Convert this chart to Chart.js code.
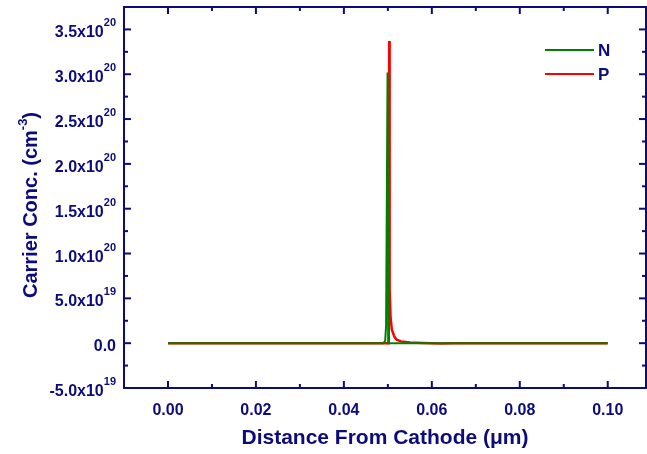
<!DOCTYPE html>
<html>
<head>
<meta charset="utf-8">
<script src="https://cdn.jsdelivr.net/npm/chart.js@4"></script>
<style>
  html, body { margin: 0; padding: 0; background: #fff; }
  #wrap { width: 647px; height: 454px; }
</style>
</head>
<body>
<div id="wrap"><canvas id="myChart" width="647" height="454"></canvas></div>
<script>
// distance (um) and carrier concentration (cm^-3)
const nX = [0, 0.0490, 0.0494, 0.0496, 0.04993, 0.0501, 0.1];
const nY = [0, 0, 3e18, 2e19, 3.02e20, 0, 0];
const pX = [0, 0.0502, 0.0503, 0.0504, 0.0506, 0.0509, 0.0515, 0.0520, 0.0530, 0.0550, 0.0580, 0.0620, 0.0650, 0.1];
const pY = [0, 0, 3.37e20, 6e19, 3e19, 1.5e19, 7e18, 4e18, 2e18, 8e17, 2e17, -3e17, 0, 0];

const xTicks = [0, 0.02, 0.04, 0.06, 0.08, 0.10];
const xMinor = [0.01, 0.03, 0.05, 0.07, 0.09];
const yMant = ['-5.0', '0.0', '5.0', '1.0', '1.5', '2.0', '2.5', '3.0', '3.5'];
const yExp = ['19', '', '19', '20', '20', '20', '20', '20', '20'];
const yTicks = [-5e19, 0, 5e19, 1e20, 1.5e20, 2e20, 2.5e20, 3e20, 3.5e20];
const yMinor = [-2.5e19, 2.5e19, 7.5e19, 1.25e20, 1.75e20, 2.25e20, 2.75e20, 3.25e20];

const navy = '#0b0b7c';
const font = '"Liberation Sans", Arial, sans-serif';

function toPts(xs, ys) {
    return xs.map((x, i) => ({ x: x, y: ys[i] }));
}

const decor = {
    id: 'decor',
    afterDraw(chart) {
        const ctx = chart.ctx;
        const a = chart.chartArea;
        const xs = chart.scales.x;
        const ys = chart.scales.y;
        ctx.save();
        ctx.strokeStyle = navy;
        ctx.lineWidth = 2;
        // top and right border
        ctx.beginPath();
        ctx.moveTo(a.left, a.top);
        ctx.lineTo(a.right, a.top);
        ctx.lineTo(a.right, a.bottom);
        ctx.stroke();

        // inward ticks
        const tick = (x1, y1, x2, y2) => { ctx.beginPath(); ctx.moveTo(x1, y1); ctx.lineTo(x2, y2); ctx.stroke(); };
        xTicks.forEach(v => { const p = xs.getPixelForValue(v); tick(p, a.bottom, p, a.bottom - 7); tick(p, a.top, p, a.top + 7); });
        xMinor.forEach(v => { const p = xs.getPixelForValue(v); tick(p, a.bottom, p, a.bottom - 4); tick(p, a.top, p, a.top + 4); });
        yTicks.forEach(v => { const p = ys.getPixelForValue(v); tick(a.left, p, a.left + 7, p); tick(a.right, p, a.right - 7, p); });
        yMinor.forEach(v => { const p = ys.getPixelForValue(v); tick(a.left, p, a.left + 4, p); tick(a.right, p, a.right - 4, p); });

        // y labels with exponents
        ctx.fillStyle = navy;
        ctx.textBaseline = 'alphabetic';
        yTicks.forEach((v, i) => {
            const p = ys.getPixelForValue(v) + 8;
            const right = a.left - 8;
            ctx.textAlign = 'right';
            if (yExp[i]) {
                ctx.font = 'bold 11px ' + font;
                const ew = ctx.measureText(yExp[i]).width;
                ctx.fillText(yExp[i], right, p - 11);
                ctx.font = 'bold 16px ' + font;
                ctx.fillText(yMant[i] + 'x10', right - ew, p);
            } else {
                ctx.font = 'bold 16px ' + font;
                ctx.fillText(yMant[i], right, p);
            }
        });

        // y title
        ctx.save();
        ctx.translate(37, 205);
        ctx.rotate(-Math.PI / 2);
        const t1 = 'Carrier Conc. (cm';
        const t2 = ')';
        ctx.font = 'bold 13px ' + font;
        const wsup = ctx.measureText('-3').width;
        ctx.font = 'bold 20px ' + font;
        const w1 = ctx.measureText(t1).width;
        const w2 = ctx.measureText(t2).width;
        const total = w1 + wsup + w2;
        ctx.textAlign = 'left';
        ctx.fillText(t1, -total / 2, 0);
        ctx.fillText(t2, -total / 2 + w1 + wsup, 0);
        ctx.font = 'bold 13px ' + font;
        ctx.fillText('-3', -total / 2 + w1, -10);
        ctx.restore();

        // legend
        ctx.textBaseline = 'middle';
        chart.data.datasets.forEach((ds, i) => {
            const yy = 50 + i * 24;
            ctx.strokeStyle = ds.borderColor;
            ctx.lineWidth = 2;
            tick(545, yy, 594, yy);
            ctx.fillStyle = navy;
            ctx.font = 'bold 17px ' + font;
            ctx.textAlign = 'left';
            ctx.fillText(ds.label, 598, yy + 1);
        });
        ctx.restore();
    }
};

const ctx = document.getElementById('myChart').getContext('2d');
const myChart = new Chart(ctx, {
    type: 'line',
    data: {
        datasets: [
            { label: 'N', data: toPts(nX, nY), borderColor: '#008000', borderWidth: 2, pointRadius: 0, tension: 0 },
            { label: 'P', data: toPts(pX, pY), borderColor: '#ff0000', borderWidth: 2.5, pointRadius: 0, tension: 0 }
        ]
    },
    options: {
        responsive: false,
        animation: false,
        layout: { padding: { top: 7, right: 1, left: 0, bottom: 0 } },
        plugins: { legend: { display: false }, tooltip: { enabled: false } },
        scales: {
            x: {
                type: 'linear',
                min: -0.01,
                max: 0.1087,
                afterBuildTicks: (s) => { s.ticks = xTicks.map(v => ({ value: v })); },
                afterFit: (s) => { s.height = 66; },
                grid: { display: false },
                border: { display: true, color: navy, width: 2 },
                ticks: {
                    padding: 5,
                    color: navy,
                    font: { family: font, size: 16, weight: 'bold' },
                    callback: (v) => Number(v).toFixed(2)
                },
                title: {
                    display: true,
                    text: 'Distance From Cathode (\u03bcm)',
                    color: navy,
                    font: { family: font, size: 21, weight: 'bold' },
                    padding: { top: 4, bottom: 3 }
                }
            },
            y: {
                type: 'linear',
                min: -5e19,
                max: 3.75e20,
                afterBuildTicks: (s) => { s.ticks = yTicks.map(v => ({ value: v })); },
                afterFit: (s) => { s.width = 124; },
                grid: { display: false },
                border: { display: true, color: navy, width: 2 },
                ticks: { display: false }
            }
        }
    },
    plugins: [decor]
});
</script>
</body>
</html>
